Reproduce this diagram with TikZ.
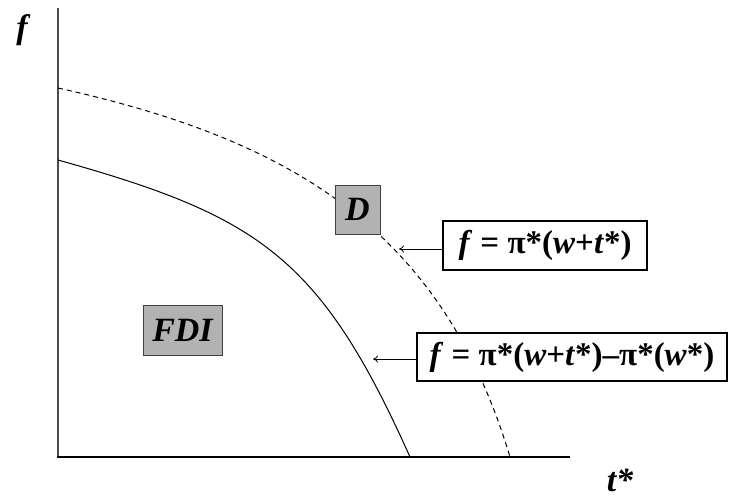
\documentclass[tikz,border=0pt]{standalone}
\usepackage{fontspec}
\setmainfont{Liberation Serif}
\usetikzlibrary{arrows.meta}
\begin{document}
\begin{tikzpicture}[x=1pt,y=-1pt,
  lbl/.style={font=\fontsize{34}{40}\selectfont\bfseries\itshape, inner sep=0pt},
  graybox/.style={draw=black!75, line width=0.9pt, fill=black!30, inner sep=0pt,
    font=\fontsize{34}{40}\selectfont\bfseries\itshape},
  formbox/.style={draw=black, line width=1.1pt, fill=white, inner sep=0pt,
    font=\fontsize{33}{40}\selectfont\bfseries},
  pointer/.style={line width=0.8pt, -{To[length=5pt,width=7pt]}},
  axisv/.style={draw=black!70, line width=2pt},
  axish/.style={draw=black, line width=1.3pt}]
\useasboundingbox (0,0) rectangle (731,497);
% axes
\coordinate (ytop) at (58,8);
\coordinate (orig) at (58,457);
\coordinate (xend) at (570,457);
\draw[axisv] (ytop) -- (58,458);
\draw[axish] (57,457) -- (xend);
\node[lbl] (flab) at (22,30) {f};
\node[lbl] (tlab) at (620,480) {t*};
% curves
\draw[line width=1pt] (58,160) .. controls (258,216) and (320,256) .. (410,457);
\draw[line width=1pt, dash pattern=on 5pt off 4pt] (58,88) .. controls (288,139) and (441,227) .. (510,457);
% boxes
\node[graybox, minimum width=45pt, minimum height=49pt] (D) at (357.5,209.5) {D};
\node[graybox, minimum width=79pt, minimum height=50pt] (FDI) at (182.5,330) {FDI};
\node[formbox, minimum width=204pt, minimum height=49pt] (box1) at (545,245.5)
  {\textit{f} = π*(\textit{w}+\textit{t}*)};
\node[formbox, minimum width=310pt, minimum height=48pt] (box2) at (572,357)
  {\textit{f} = π*(\textit{w}+\textit{t}*)–π*(\textit{w}*)};
% pointers
\coordinate (tip1) at (399,249);
\coordinate (tip2) at (373,359);
\draw[pointer] (tip1 -| box1.west) -- (tip1);
\draw[pointer] (tip2 -| box2.west) -- (tip2);
\end{tikzpicture}
\end{document}
